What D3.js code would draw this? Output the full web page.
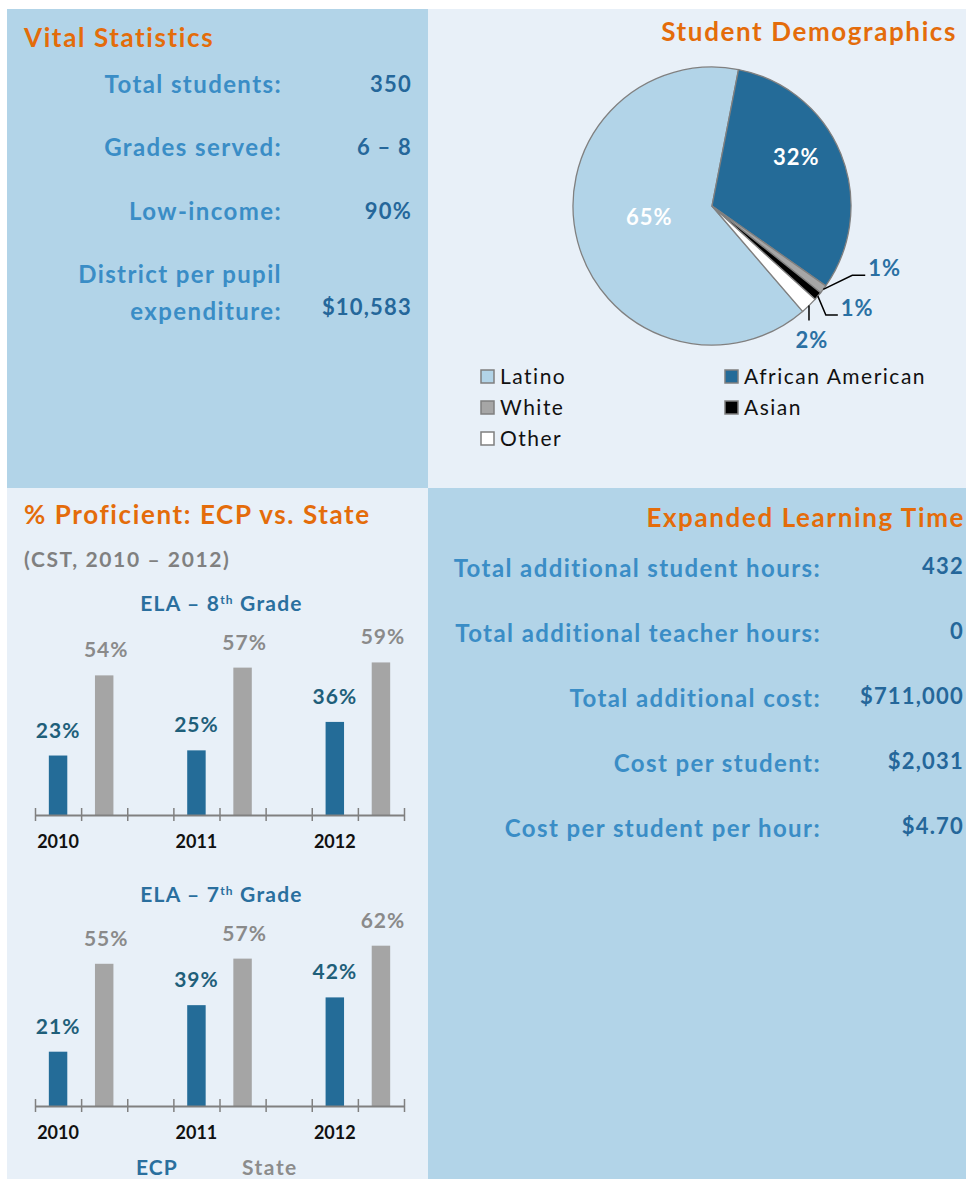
<!DOCTYPE html>
<html>
<head>
<meta charset="utf-8">
<script src="https://cdn.jsdelivr.net/npm/d3@7"></script>
<style>
  body { margin: 0; background: #fff; }
  svg text { font-family: Lato, "Noto Sans", sans-serif; }
</style>
</head>
<body>
<div id="wrapper"></div>
<script>
// ---- data ----
const vitalLabels = [["Total students:"], ["Grades served:"], ["Low-income:"], ["District per pupil", "expenditure:"]];
const vitalValues = ["350", "6 – 8", "90%", "$10,583"];

const demoGroups = ["Latino", "African American", "White", "Asian", "Other"];
const demoValues = [65, 32, 1, 1, 2];

const years = ["2010", "2011", "2012"];
const seriesNames = ["ECP", "State"];
const ela8Ecp = [23, 25, 36];
const ela8State = [54, 57, 59];
const ela7Ecp = [21, 39, 42];
const ela7State = [55, 57, 62];

const eltLabels = ["Total additional student hours:", "Total additional teacher hours:", "Total additional cost:", "Cost per student:", "Cost per student per hour:"];
const eltValues = ["432", "0", "$711,000", "$2,031", "$4.70"];

// ---- colours ----
const orange = "#e46c0a";
const labelBlue = "#3a8dc6";
const valueBlue = "#25679a";
const panelDark = "#b2d4e8";
const panelLight = "#e8f0f8";

const W = 966, H = 1179;
const svg = d3.select("#wrapper").append("svg")
    .attr("width", W)
    .attr("height", H);

// panels
const splitX = 428, splitY = 488;
const panels = [
    {x: 7, y: 9, w: splitX - 7, h: splitY - 9, fill: panelDark},
    {x: splitX, y: 9, w: W - splitX, h: splitY - 9, fill: panelLight},
    {x: 7, y: splitY, w: splitX - 7, h: H - splitY, fill: panelLight},
    {x: splitX, y: splitY, w: W - splitX, h: H - splitY, fill: panelDark}
];
svg.selectAll("rect.panel")
    .data(panels)
    .enter()
    .append("rect")
        .attr("class", "panel")
        .attr("x", d => d.x)
        .attr("y", d => d.y)
        .attr("width", d => d.w)
        .attr("height", d => d.h)
        .attr("fill", d => d.fill);

function title(txt, x, y, anchor) {
    svg.append("text")
        .attr("x", x).attr("y", y)
        .attr("text-anchor", anchor || "start")
        .attr("fill", orange)
        .style("font-size", "26px")
        .style("font-weight", 700)
        .style("letter-spacing", "1.6px")
        .text(txt);
}

// ---- Vital Statistics ----
title("Vital Statistics", 24, 47);

const vitalY = d3.scalePoint()
    .domain(d3.range(vitalLabels.length))
    .range([93, 283]);

vitalLabels.forEach(function(lines, i) {
    const t = svg.append("text")
        .attr("text-anchor", "end")
        .attr("fill", labelBlue)
        .style("font-size", "24px")
        .style("font-weight", 700)
        .style("letter-spacing", "1.4px");
    lines.forEach(function(l, j) {
        t.append("tspan")
            .attr("x", 282)
            .attr("y", vitalY(i) + j * 37)
            .text(l);
    });
    svg.append("text")
        .attr("x", 412)
        .attr("y", vitalY(i) + (lines.length - 1) * 37 - (lines.length > 1 ? 5 : 1))
        .attr("text-anchor", "end")
        .attr("fill", valueBlue)
        .style("font-size", "22px")
        .style("font-weight", 700)
        .style("letter-spacing", "1.2px")
        .text(vitalValues[i]);
});

// ---- Student Demographics ----
title("Student Demographics", 957, 41, "end");

const pieColors = d3.scaleOrdinal()
    .domain(demoGroups)
    .range(["#b2d4e8", "#246b98", "#a6a6a6", "#000000", "#ffffff"]);

const cx = 712, cy = 206, r = 139;
const total = d3.sum(demoValues);
// Latino first, ending just past 12 o'clock
const startA = 2 * Math.PI * (1 - demoValues[0] / total) + 0.192;
const pie = d3.pie().sort(null).startAngle(startA).endAngle(startA + 2 * Math.PI);
const arcs = pie(demoValues);
const arcGen = d3.arc().innerRadius(0).outerRadius(r);

const pieG = svg.append("g").attr("transform", `translate(${cx},${cy})`);
pieG.selectAll("path")
    .data(arcs)
    .enter()
    .append("path")
        .attr("d", arcGen)
        .attr("fill", (d, i) => pieColors(demoGroups[i]))
        .attr("stroke", "#808080")
        .attr("stroke-width", 1.3);

// big labels inside
const innerLbl = d3.arc().innerRadius(r * 0.6).outerRadius(r * 0.6);
const bigOffsets = {0: [18, -2], 1: [7, -10]};
arcs.forEach(function(d, i) {
    if (d.data < 10) return;
    const c = innerLbl.centroid(d);
    const o = bigOffsets[i] || [0, 0];
    svg.append("text")
        .attr("x", cx + c[0] + o[0])
        .attr("y", cy + c[1] + o[1])
        .attr("text-anchor", "middle")
        .attr("fill", "#fff")
        .style("font-size", "22px")
        .style("font-weight", 700)
        .style("letter-spacing", "1px")
        .text(d.data + "%");
});

// small slices with leader lines
const leaders = {
    2: {pts: [[29, -14], [42, -14]], lbl: [45, -13], anchor: "start"},
    3: {pts: [[8, 19], [20, 19]], lbl: [23, 20], anchor: "start"},
    4: {pts: [[0, 15]], lbl: [3, 42], anchor: "middle"}
};
arcs.forEach(function(d, i) {
    const L = leaders[i];
    if (!L) return;
    const a = (d.startAngle + d.endAngle) / 2;
    const p0 = [cx + Math.sin(a) * r, cy - Math.cos(a) * r];
    const pts = [p0].concat(L.pts.map(p => [p0[0] + p[0], p0[1] + p[1]]));
    svg.append("path")
        .attr("d", d3.line()(pts))
        .attr("fill", "none")
        .attr("stroke", "#000")
        .attr("stroke-width", 1.5);
    svg.append("text")
        .attr("x", p0[0] + L.lbl[0])
        .attr("y", p0[1] + L.lbl[1])
        .attr("text-anchor", L.anchor)
        .attr("fill", "#2b70a3")
        .style("font-size", "22px")
        .style("font-weight", 700)
        .style("letter-spacing", "1px")
        .text(d.data + "%");
});

// legend
const legendG = svg.append("g");
demoGroups.forEach(function(name, k) {
    const col = k % 2, row = Math.floor(k / 2);
    const lx = col === 0 ? 481 : 725;
    const ly = 377 + row * 31;
    legendG.append("rect")
        .attr("x", lx).attr("y", ly - 7)
        .attr("width", 13).attr("height", 13)
        .attr("fill", pieColors(name))
        .attr("stroke", "#7f7f7f")
        .attr("stroke-width", 1.5);
    legendG.append("text")
        .attr("x", lx + 19).attr("y", ly + 7)
        .attr("fill", "#111")
        .style("font-size", "21px")
        .style("letter-spacing", "1.5px")
        .text(name);
});

// ---- % Proficient ----
title("% Proficient: ECP vs. State", 24, 524);
svg.append("text")
    .attr("x", 24).attr("y", 567)
    .attr("fill", "#808080")
    .style("font-size", "21px")
    .style("font-weight", 700)
    .style("letter-spacing", "1.6px")
    .text("(CST, 2010 – 2012)");

const xLeft = 35, xRight = 404;
const x0 = d3.scaleBand().domain(years).range([xLeft, xRight]).paddingInner(1 / 3).paddingOuter(0);
const x1 = d3.scaleBand().domain(seriesNames).range([0, x0.bandwidth()]).paddingInner(0.6).paddingOuter(0.3);
const slots = d3.scaleLinear().domain([0, 8]).range([xLeft, xRight]);
const barColor = {ECP: "#246c98", State: "#a5a5a5"};
const lblColor = {ECP: "#1f5f7a", State: "#8a8a8a"};

function barChart(grade, ecp, state, axisY) {
    const y = d3.scaleLinear().domain([0, 70]).range([axisY, axisY - 181]);
    const g = svg.append("g");

    const t = g.append("text")
        .attr("x", (xLeft + xRight) / 2 + 2)
        .attr("y", axisY - 204)
        .attr("text-anchor", "middle")
        .attr("fill", "#2a6f9e")
        .style("font-size", "21px")
        .style("font-weight", 700)
        .style("letter-spacing", "1.2px");
    t.append("tspan").text("ELA – " + grade);
    t.append("tspan").attr("dy", -7).style("font-size", "12px").text("th");
    t.append("tspan").attr("dy", 7).text(" Grade");

    const rows = [];
    years.forEach(function(yr, i) {
        rows.push({year: yr, series: "ECP", value: ecp[i]});
        rows.push({year: yr, series: "State", value: state[i]});
    });

    g.selectAll("rect.bar")
        .data(rows)
        .enter()
        .append("rect")
            .attr("class", "bar")
            .attr("x", d => x0(d.year) + x1(d.series))
            .attr("y", d => y(d.value))
            .attr("width", x1.bandwidth())
            .attr("height", d => axisY - y(d.value))
            .attr("fill", d => barColor[d.series]);

    g.selectAll("text.val")
        .data(rows)
        .enter()
        .append("text")
            .attr("class", "val")
            .attr("x", d => x0(d.year) + x1(d.series) + x1.bandwidth() / 2 + (d.series === "State" ? 2 : 0))
            .attr("y", d => y(d.value) - 18)
            .attr("text-anchor", "middle")
            .attr("fill", d => lblColor[d.series])
            .style("font-size", "21px")
            .style("font-weight", 700)
            .style("letter-spacing", "1px")
            .text(d => d.value + "%");

    const axis = g.append("g")
        .attr("transform", `translate(0,${axisY})`)
        .call(d3.axisBottom(slots).tickValues(d3.range(9)).tickSize(6).tickSizeOuter(0).tickFormat(""));
    axis.select(".domain").attr("stroke", "#808080").attr("stroke-width", 2);
    axis.selectAll(".tick line").attr("stroke", "#808080").attr("stroke-width", 1.5).attr("y1", -7);

    g.selectAll("text.yr")
        .data(years)
        .enter()
        .append("text")
            .attr("class", "yr")
            .attr("x", d => x0(d) + x1("ECP") + x1.bandwidth() / 2)
            .attr("y", axisY + 33)
            .attr("text-anchor", "middle")
            .attr("fill", "#111")
            .style("font-size", "18px")
            .style("font-weight", 700)
            .text(d => d);
}

barChart("8", ela8Ecp, ela8State, 815);
barChart("7", ela7Ecp, ela7State, 1106);

svg.append("text")
    .attr("x", 136).attr("y", 1175)
    .attr("fill", "#2a6f9e")
    .style("font-size", "21px")
    .style("font-weight", 700)
    .style("letter-spacing", "1px")
    .text(seriesNames[0]);
svg.append("text")
    .attr("x", 242).attr("y", 1175)
    .attr("fill", "#8c8c8c")
    .style("font-size", "21px")
    .style("font-weight", 700)
    .style("letter-spacing", "1.5px")
    .text(seriesNames[1]);

// ---- Expanded Learning Time ----
title("Expanded Learning Time", 965, 527, "end");

const eltY = d3.scalePoint()
    .domain(d3.range(eltLabels.length))
    .range([577, 837]);

svg.selectAll("text.eltlbl")
    .data(eltLabels)
    .enter()
    .append("text")
        .attr("x", 821)
        .attr("y", (d, i) => eltY(i))
        .attr("text-anchor", "end")
        .attr("fill", labelBlue)
        .style("font-size", "24px")
        .style("font-weight", 700)
        .style("letter-spacing", "1.4px")
        .text(d => d);

svg.selectAll("text.eltval")
    .data(eltValues)
    .enter()
    .append("text")
        .attr("x", 964)
        .attr("y", (d, i) => eltY(i) - 3)
        .attr("text-anchor", "end")
        .attr("fill", valueBlue)
        .style("font-size", "22px")
        .style("font-weight", 700)
        .style("letter-spacing", "1.2px")
        .text(d => d);
</script>
</body>
</html>
